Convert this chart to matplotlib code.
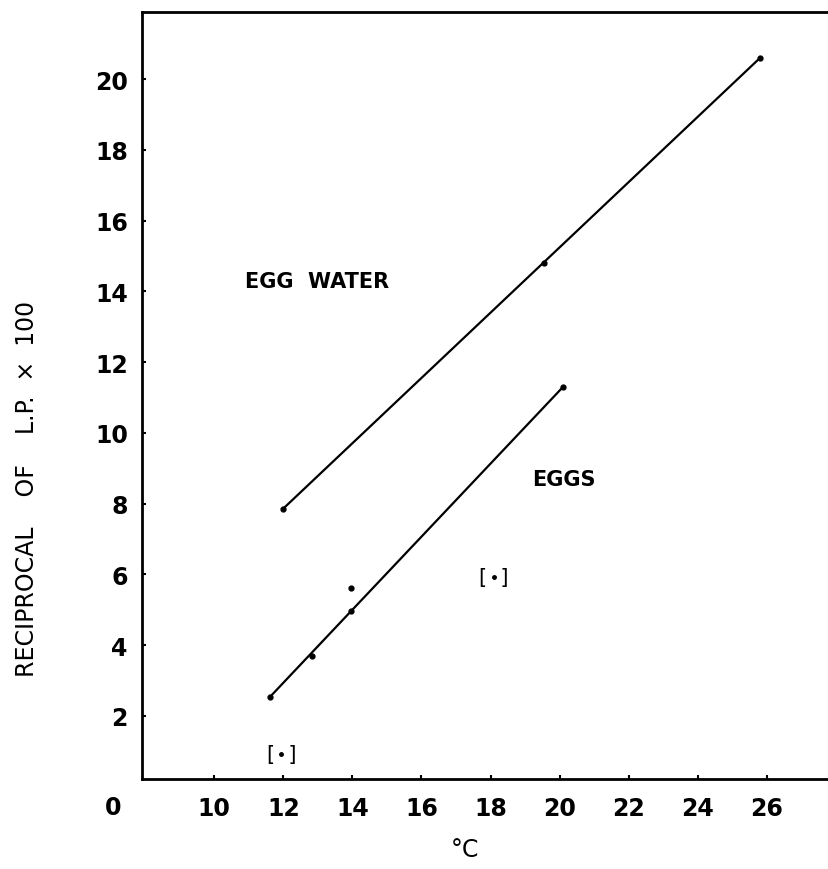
# reciprocal_lp.py
# Reciprocal of latent period vs temperature, egg water and eggs.

import matplotlib
matplotlib.use('Agg')
import matplotlib.pyplot as plt

# egg water: measured points and fitted line ends
water_temp = [12.0, 19.55, 25.8]
water_recip = [7.86, 14.8, 20.6]
water_fit_temp = [12.0, 25.8]
water_fit_recip = [7.86, 20.6]

# eggs: measured points and fitted line ends
eggs_temp = [11.62, 12.84, 13.97, 13.97, 20.1]
eggs_recip = [2.54, 3.70, 4.97, 5.60, 11.3]
eggs_fit_temp = [11.62, 20.1]
eggs_fit_recip = [2.54, 11.3]

# bracketed (doubtful) points
doubt_temp = [11.94, 18.09]
doubt_recip = [0.92, 5.93]

x_ticks = [10, 12, 14, 16, 18, 20, 22, 24, 26]
y_ticks = [2, 4, 6, 8, 10, 12, 14, 16, 18, 20]

plt.rcParams['font.family'] = ['DejaVu Sans']

fig = plt.figure(figsize=(8.29, 8.70), dpi=100)
ax = fig.add_axes([0.171, 0.103, 0.829, 0.882])

ax.plot(water_fit_temp, water_fit_recip, color='black', linewidth=1.6)
ax.plot(eggs_fit_temp, eggs_fit_recip, color='black', linewidth=1.6)
ax.plot(water_temp, water_recip, 'o', color='black', markersize=3.5)
ax.plot(eggs_temp, eggs_recip, 'o', color='black', markersize=3.5)

for t, r in zip(doubt_temp, doubt_recip):
    ax.plot(t, r, 'o', color='black', markersize=2.5)
    ax.text(t, r, '[  ]', ha='center', va='center', fontsize=15, color='black')

ax.text(10.9, 14.3, 'EGG  WATER', fontsize=15, fontweight='bold', va='center', ha='left')
ax.text(19.2, 8.7, 'EGGS', fontsize=15, fontweight='bold', va='center', ha='left')

ax.set_xlim(7.9, 27.8)
ax.set_ylim(0.2, 21.9)
ax.set_xticks(x_ticks)
ax.set_yticks(y_ticks)
ax.set_xticklabels([str(v) for v in x_ticks], fontsize=17, fontweight='bold')
ax.set_yticklabels([str(v) for v in y_ticks], fontsize=17, fontweight='bold')
ax.tick_params(direction='in', length=3, width=1.5, pad=12)
ax.tick_params(axis='y', pad=10)

for side in ['left', 'bottom', 'top']:
    ax.spines[side].set_linewidth(2)
ax.spines['right'].set_visible(False)

# shared origin label at the corner
ax.text(-0.03, -0.02, '0', transform=ax.transAxes, fontsize=17,
        fontweight='bold', ha='right', va='top')

ax.set_xlabel('°C', fontsize=17)
ax.xaxis.set_label_coords(0.47, -0.075)
ax.set_ylabel('RECIPROCAL    OF    L.P.  ×  100', fontsize=17)
ax.yaxis.set_label_coords(-0.15, 0.38)

fig.savefig('out.png', dpi=100)
